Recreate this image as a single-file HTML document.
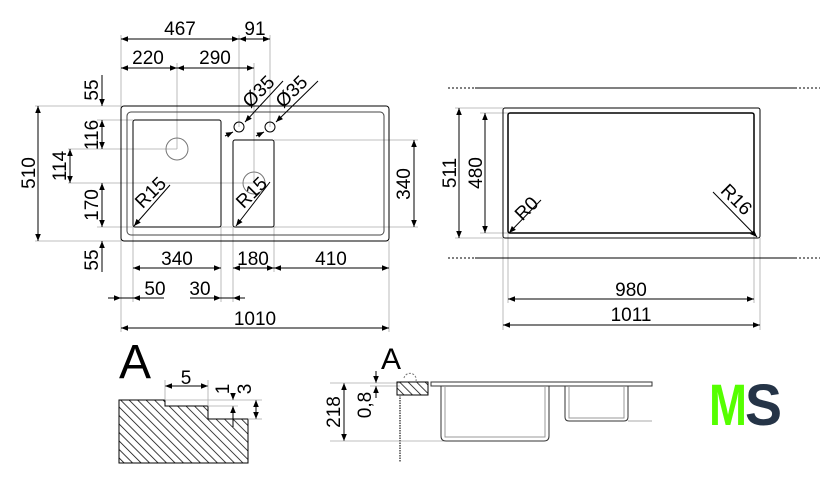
<!DOCTYPE html>
<html><head><meta charset="utf-8"><style>
html,body{margin:0;padding:0;background:#fff;}
svg{display:block;}
text{font-family:"Liberation Sans",sans-serif;fill:#000;}
</style></head><body>
<svg width="840" height="484" viewBox="0 0 840 484" xmlns="http://www.w3.org/2000/svg">
<defs>
<marker id="a" viewBox="0 0 10 10" refX="10" refY="5" markerWidth="10" markerHeight="7" orient="auto-start-reverse" markerUnits="userSpaceOnUse"><path d="M0,1 L10,5 L0,9 z" fill="#000"/></marker>
<pattern id="h" patternUnits="userSpaceOnUse" width="6" height="6" patternTransform="rotate(-45)"><line x1="0" y1="0" x2="0" y2="6" stroke="#000" stroke-width="1.5"/></pattern>
</defs>
<g stroke="#aaa" stroke-width="0.8" fill="none">
<line x1="121" y1="35" x2="121" y2="332"/>
<line x1="177" y1="63" x2="177" y2="149"/>
<line x1="239" y1="35" x2="239" y2="127"/>
<line x1="254" y1="63" x2="254" y2="183"/>
<line x1="270" y1="35" x2="270" y2="127"/>
<line x1="35" y1="106" x2="121" y2="106"/>
<line x1="35" y1="241" x2="121" y2="241"/>
<line x1="97" y1="120" x2="133" y2="120"/>
<line x1="68" y1="149" x2="177" y2="149"/>
<line x1="68" y1="183" x2="254" y2="183"/>
<line x1="97" y1="227" x2="276" y2="227"/>
<line x1="274" y1="140" x2="418" y2="140"/>
<line x1="274" y1="227" x2="418" y2="227"/>
<line x1="133" y1="227" x2="133" y2="302"/>
<line x1="221" y1="227" x2="221" y2="302"/>
<line x1="233" y1="227" x2="233" y2="302"/>
<line x1="274" y1="227" x2="274" y2="272"/>
<line x1="389" y1="241" x2="389" y2="332"/>
<line x1="455" y1="108" x2="503" y2="108"/>
<line x1="455" y1="238" x2="503" y2="238"/>
<line x1="480" y1="113" x2="508" y2="113"/>
<line x1="480" y1="233" x2="508" y2="233"/>
<line x1="503" y1="238" x2="503" y2="330"/>
<line x1="508" y1="233" x2="508" y2="303"/>
<line x1="754" y1="233" x2="754" y2="303"/>
<line x1="760" y1="238" x2="760" y2="330"/>
</g>
<g stroke="#000" stroke-width="1" fill="none">
<rect x="121" y="106" width="268" height="135" rx="3"/>
<rect x="127" y="112" width="257" height="123" rx="4" stroke="#444"/>
<rect x="133" y="120" width="88" height="107" rx="2"/>
<rect x="233" y="140" width="41" height="87" rx="2"/>
<circle cx="177" cy="149" r="11" stroke="#777"/>
<circle cx="254" cy="183" r="11" stroke="#777"/>
<circle cx="239" cy="127" r="5"/>
<circle cx="270" cy="127" r="5"/>
</g>
<g stroke="#000" stroke-width="1" fill="none" marker-start="url(#a)" marker-end="url(#a)">
<line x1="121" y1="39" x2="239" y2="39"/>
<line x1="239" y1="39" x2="270" y2="39"/>
<line x1="121" y1="68" x2="177" y2="68"/>
<line x1="177" y1="68" x2="254" y2="68"/>
<line x1="38" y1="106" x2="38" y2="241"/>
<line x1="102" y1="120" x2="102" y2="149"/>
<line x1="70" y1="149" x2="70" y2="183"/>
<line x1="102" y1="183" x2="102" y2="227"/>
<line x1="414" y1="140" x2="414" y2="227"/>
<line x1="133" y1="268" x2="221" y2="268"/>
<line x1="233" y1="268" x2="274" y2="268"/>
<line x1="274" y1="268" x2="389" y2="268"/>
<line x1="121" y1="328" x2="389" y2="328"/>
<line x1="459" y1="108" x2="459" y2="238"/>
<line x1="485" y1="113" x2="485" y2="233"/>
<line x1="508" y1="299" x2="754" y2="299"/>
<line x1="503" y1="325" x2="760" y2="325"/>
<line x1="165" y1="386" x2="208" y2="386"/>
<line x1="344" y1="383" x2="344" y2="441"/>
</g>
<g stroke="#000" stroke-width="1" fill="none" marker-end="url(#a)">
<line x1="102" y1="75" x2="102" y2="106"/>
<line x1="102" y1="272" x2="102" y2="241"/>
<line x1="108" y1="298" x2="121" y2="298"/>
<line x1="164" y1="298" x2="133" y2="298"/>
<line x1="190" y1="298" x2="221" y2="298"/>
<line x1="245" y1="298" x2="233" y2="298"/>
<line x1="170" y1="185" x2="134" y2="226"/>
<line x1="270" y1="182" x2="236" y2="226"/>
<line x1="283" y1="81" x2="245" y2="122"/>
<line x1="318" y1="81" x2="276" y2="122"/>
<line x1="225" y1="136" x2="233" y2="132"/>
<line x1="256" y1="136" x2="264" y2="132"/>
<line x1="541" y1="200" x2="509" y2="233"/>
<line x1="713" y1="192" x2="757" y2="237"/>
<line x1="233" y1="393" x2="233" y2="400"/>
<line x1="233" y1="427" x2="233" y2="406"/>
<line x1="256" y1="400" x2="256" y2="419" marker-start="url(#a)"/>
<line x1="376" y1="371" x2="376" y2="383"/>
<line x1="376" y1="398" x2="376" y2="386"/>
</g>
<line x1="121" y1="298" x2="133" y2="298" stroke="#000"/>
<line x1="221" y1="298" x2="233" y2="298" stroke="#000"/>
<g font-size="19" text-anchor="middle">
<text x="180" y="35">467</text>
<text x="255" y="35">91</text>
<text x="148" y="64">220</text>
<text x="215" y="64">290</text>
<text x="177" y="265">340</text>
<text x="253" y="265">180</text>
<text x="331" y="265">410</text>
<text x="155" y="295">50</text>
<text x="200" y="295">30</text>
<text x="255" y="325">1010</text>
<text x="631" y="296">980</text>
<text x="631" y="321">1011</text>
<text transform="translate(35,173) rotate(-90)">510</text>
<text transform="translate(98,90) rotate(-90)">55</text>
<text transform="translate(98,135) rotate(-90)">116</text>
<text transform="translate(66,166) rotate(-90)">114</text>
<text transform="translate(98,205) rotate(-90)">170</text>
<text transform="translate(98,260) rotate(-90)">55</text>
<text transform="translate(410,184) rotate(-90)">340</text>
<text transform="translate(456,173) rotate(-90)">511</text>
<text transform="translate(482,173) rotate(-90)">480</text>
<text transform="translate(155,197) rotate(-45)">R15</text>
<text transform="translate(256,197) rotate(-45)">R15</text>
<text transform="translate(263,96) rotate(-45)">Ø35</text>
<text transform="translate(296,96) rotate(-45)">Ø35</text>
<text transform="translate(531,213) rotate(-45)">R0</text>
<text transform="translate(732,204) rotate(45)">R16</text>
<text x="186" y="384">5</text>
<text transform="translate(229,389) rotate(-90)">1</text>
<text transform="translate(251,389) rotate(-90)">3</text>
<text transform="translate(340,412) rotate(-90)">218</text>
<text transform="translate(371,405) rotate(-90)">0,8</text>
</g>
<g stroke="#000" fill="none">
<rect x="503" y="108" width="257" height="130" rx="2" stroke-width="1"/>
<rect x="508" y="113" width="246" height="120" rx="2" stroke-width="1.5"/>
<line x1="475" y1="88" x2="795" y2="88"/>
<line x1="448" y1="88" x2="475" y2="88" stroke-dasharray="2,2"/>
<line x1="795" y1="88" x2="820" y2="88" stroke-dasharray="2,2"/>
<line x1="475" y1="258" x2="795" y2="258"/>
<line x1="448" y1="258" x2="475" y2="258" stroke-dasharray="2,2"/>
<line x1="795" y1="258" x2="820" y2="258" stroke-dasharray="2,2"/>
</g>
<text x="119" y="378" font-size="48">A</text>
<polygon points="119,400 165,400 165,406 208,406 208,419 248,419 248,463 119,463" fill="url(#h)" stroke="#000" stroke-width="1"/>
<g stroke="#aaa" stroke-width="0.8">
<line x1="165" y1="380" x2="165" y2="400"/><line x1="208" y1="380" x2="208" y2="406"/>
<line x1="165" y1="400" x2="262" y2="400"/><line x1="208" y1="406" x2="238" y2="406"/><line x1="248" y1="419" x2="262" y2="419"/>
<line x1="330" y1="383" x2="400" y2="383"/><line x1="330" y1="441" x2="445" y2="441"/>
<line x1="370" y1="386" x2="400" y2="386"/>
</g>
<text x="381" y="369" font-size="30">A</text>
<rect x="397" y="382" width="31" height="13" fill="url(#h)" stroke="#000"/>
<line x1="400" y1="395" x2="400" y2="462" stroke="#777" stroke-width="2" stroke-dasharray="1.5,1"/>
<path d="M404,378 A6,6 0 0 1 416,381" stroke="#777" fill="none" stroke-dasharray="2,1.5"/>
<g stroke="#333" fill="none" stroke-width="1">
<path d="M431,382 L652,382 L652,386 L431,386 Z"/>
<path d="M441,386 L441,436 Q441,441 446,441 L544,441 Q549,441 549,436 L549,386"/>
<path d="M445,386 L445,437 L545,437 L545,386" stroke="#999"/>
<path d="M565,386 L565,417 Q565,421 569,421 L624,421 Q628,421 628,417 L628,386"/>
<path d="M569,386 L569,418 L624,418 L624,386" stroke="#999"/>
<line x1="628" y1="421" x2="652" y2="421" stroke="#aaa"/>
</g>
<text x="709" y="425" font-size="58" font-weight="bold" style="fill:#55ff00" textLength="38" lengthAdjust="spacingAndGlyphs">M</text>
<text x="745" y="425" font-size="58" font-weight="bold" style="fill:#253447" textLength="37" lengthAdjust="spacingAndGlyphs">S</text>
</svg>
</body></html>
